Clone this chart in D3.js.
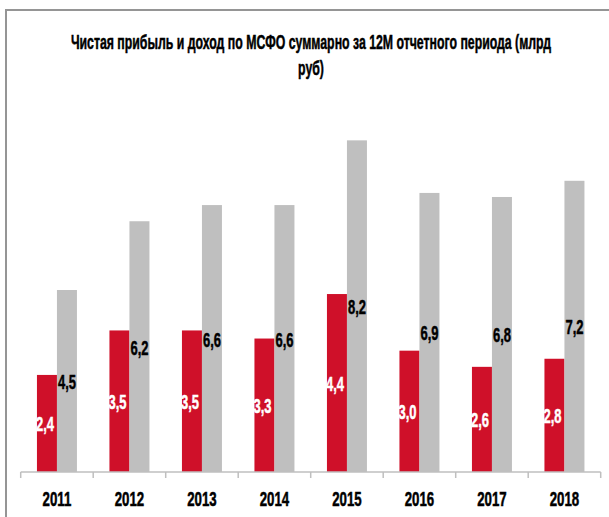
<!DOCTYPE html>
<html>
<head>
<meta charset="utf-8">
<script src="https://cdn.jsdelivr.net/npm/d3@7"></script>
<style>
  body { margin: 0; background: #fff; }
  text { font-family: "Liberation Sans", Arial, sans-serif; font-weight: bold; }
</style>
</head>
<body>
<svg id="chart" width="609" height="517"></svg>
<script>
// data
var years = ["2011", "2012", "2013", "2014", "2015", "2016", "2017", "2018"];
var profit = [2.4, 3.5, 3.5, 3.3, 4.4, 3.0, 2.6, 2.8];   // чистая прибыль
var income = [4.5, 6.2, 6.6, 6.6, 8.2, 6.9, 6.8, 7.2];   // доход
var seriesKeys = ["profit", "income"];
var titleLines = ["Чистая прибыль и доход по МСФО суммарно за 12М отчетного периода (млрд", "руб)"];

var svg = d3.select("#chart");
var squeeze = 0.65; // source font is very condensed

// frame (only top and left edges are visible)
svg.append("path")
	.attr("d", "M6,517 V10 H609")
	.attr("fill", "none")
	.attr("stroke", "#959595")
	.attr("stroke-width", 2);

// title
svg.selectAll(".title")
	.data(titleLines)
	.enter().append("text")
	.attr("class", "title")
	.attr("transform", function(d, i) { return "translate(311," + (49 + i * 26) + ") scale(0.615,1)"; })
	.attr("text-anchor", "middle")
	.attr("font-size", 20)
	.attr("fill", "#000")
	.attr("stroke", "#000")
	.attr("stroke-width", 0.5)
	.text(function(d) { return d; });

var x0 = d3.scaleBand().domain(years).range([20.7, 600.7]);
var x1 = d3.scaleBand().domain(seriesKeys).range([0, x0.bandwidth()]).paddingOuter(0.8125);
var y = d3.scaleLinear().domain([0, 9]).range([472, 108]);
var color = { profit: "#cf1029", income: "#bfbfbf" };
var labelColor = { profit: "#fff", income: "#000" };

var rows = years.map(function(yr, i) {
	return { year: yr, values: [
		{ key: "profit", value: profit[i] },
		{ key: "income", value: income[i] }
	]};
});

var groups = svg.selectAll(".yearGroup")
	.data(rows)
	.enter().append("g")
	.attr("class", "yearGroup")
	.attr("transform", function(d) { return "translate(" + x0(d.year) + ",0)"; });

groups.selectAll("rect")
	.data(function(d) { return d.values; })
	.enter().append("rect")
	.attr("x", function(d) { return x1(d.key); })
	.attr("y", function(d) { return y(d.value); })
	.attr("width", x1.bandwidth())
	.attr("height", function(d) { return y(0) - y(d.value); })
	.attr("fill", function(d) { return color[d.key]; });

groups.selectAll(".valLabel")
	.data(function(d) { return d.values; })
	.enter().append("text")
	.attr("class", "valLabel")
	.attr("transform", function(d) {
		var cx = x1(d.key) + x1.bandwidth() / 2 - (d.key == "profit" ? 2 : 0);
		var cy = (y(d.value) + y(0)) / 2 + 8;
		return "translate(" + cx + "," + cy + ") scale(" + squeeze + ",1)";
	})
	.attr("text-anchor", "middle")
	.attr("font-size", 20)
	.attr("fill", function(d) { return labelColor[d.key]; })
	.attr("stroke", function(d) { return labelColor[d.key]; })
	.attr("stroke-width", 0.5)
	.text(function(d) { return d.value.toFixed(1).replace(".", ","); });

// x axis
var axis = svg.append("g")
	.attr("transform", "translate(0," + y(0) + ")");
axis.append("line")
	.attr("x1", x0.range()[0]).attr("x2", x0.range()[1])
	.attr("stroke", "#bfbfbf").attr("stroke-width", 1.5);
axis.selectAll(".tick")
	.data(years.concat(["end"]))
	.enter().append("line")
	.attr("class", "tick")
	.attr("x1", function(d, i) { return x0.range()[0] + i * x0.step(); })
	.attr("x2", function(d, i) { return x0.range()[0] + i * x0.step(); })
	.attr("y1", 0).attr("y2", 6)
	.attr("stroke", "#bfbfbf").attr("stroke-width", 1.5);
axis.selectAll(".yearLabel")
	.data(years)
	.enter().append("text")
	.attr("class", "yearLabel")
	.attr("transform", function(d) { return "translate(" + (x0(d) + x0.bandwidth() / 2) + ",33.5) scale(0.68,1)"; })
	.attr("text-anchor", "middle")
	.attr("font-size", 19.5)
	.attr("fill", "#000")
	.attr("stroke", "#000")
	.attr("stroke-width", 0.5)
	.text(function(d) { return d; });
</script>
</body>
</html>
